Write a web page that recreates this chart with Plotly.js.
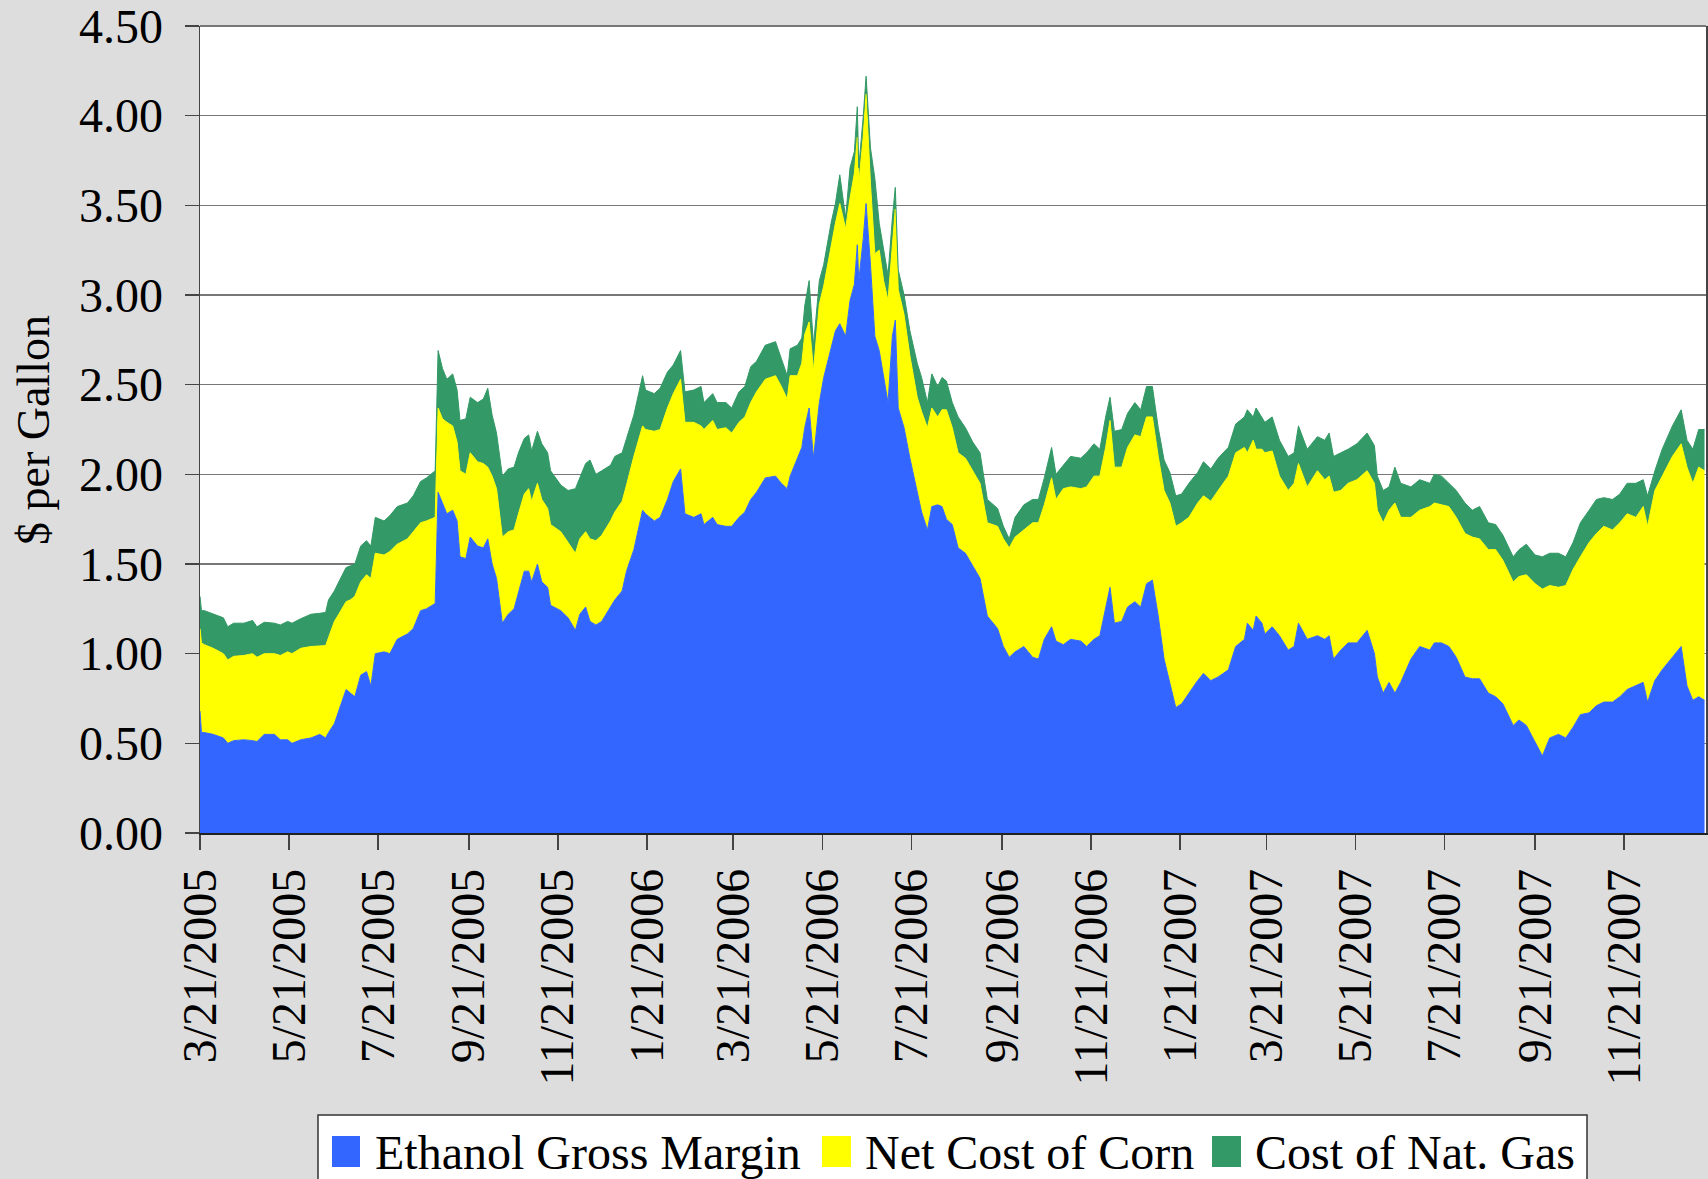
<!DOCTYPE html>
<html>
<head>
<meta charset="utf-8">
<script src="https://cdn.plot.ly/plotly-3.0.1.min.js"></script>
<style>
  html, body { margin: 0; padding: 0; background: #dddddd; }
  #chart { width: 1708px; height: 1179px; }
</style>
</head>
<body>
<div id="chart"></div>
<script>
// ---- Data (stack tops, $ per gallon) ----
const dates = [
 "2005-03-21","2005-03-22","2005-03-24","2005-03-30","2005-04-06","2005-04-09","2005-04-13","2005-04-20","2005-04-26","2005-04-29",
 "2005-05-04","2005-05-11","2005-05-15","2005-05-20","2005-05-23","2005-05-29","2005-06-05","2005-06-11","2005-06-15","2005-06-17",
 "2005-06-21","2005-06-24","2005-06-29","2005-07-02","2005-07-05","2005-07-09","2005-07-13","2005-07-16","2005-07-19","2005-07-25",
 "2005-07-29","2005-08-03","2005-08-10","2005-08-14","2005-08-19","2005-08-23","2005-08-29","2005-08-31","2005-09-03","2005-09-06",
 "2005-09-10","2005-09-13","2005-09-15","2005-09-19","2005-09-22","2005-09-27","2005-10-01","2005-10-04","2005-10-07","2005-10-10",
 "2005-10-14","2005-10-18","2005-10-22","2005-10-25","2005-10-29","2005-11-01","2005-11-03","2005-11-07","2005-11-10","2005-11-14",
 "2005-11-16","2005-11-23","2005-11-28","2005-12-03","2005-12-06","2005-12-10","2005-12-13","2005-12-17","2005-12-21","2005-12-27",
 "2005-12-30","2006-01-04","2006-01-07","2006-01-12","2006-01-18","2006-01-20","2006-01-26","2006-01-30","2006-02-04","2006-02-08",
 "2006-02-13","2006-02-16","2006-02-22","2006-02-27","2006-03-01","2006-03-07","2006-03-10","2006-03-16","2006-03-20","2006-03-25",
 "2006-03-29","2006-04-02","2006-04-06","2006-04-12","2006-04-19","2006-04-23","2006-04-27","2006-04-29","2006-05-04","2006-05-07",
 "2006-05-09","2006-05-12","2006-05-15","2006-05-19","2006-05-22","2006-05-27","2006-05-30","2006-06-02","2006-06-06","2006-06-09",
 "2006-06-12","2006-06-14","2006-06-15","2006-06-18","2006-06-20","2006-06-23","2006-06-26","2006-06-29","2006-07-02","2006-07-05",
 "2006-07-08","2006-07-10","2006-07-12","2006-07-16","2006-07-20","2006-07-25","2006-07-28","2006-08-01","2006-08-04","2006-08-08",
 "2006-08-11","2006-08-14","2006-08-18","2006-08-22","2006-08-27","2006-09-01","2006-09-06","2006-09-11","2006-09-18","2006-09-22",
 "2006-09-26","2006-09-30","2006-10-06","2006-10-12","2006-10-16","2006-10-20","2006-10-25","2006-10-28","2006-11-02","2006-11-07",
 "2006-11-14","2006-11-18","2006-11-23","2006-11-27","2006-12-01","2006-12-04","2006-12-07","2006-12-12","2006-12-16","2006-12-21",
 "2006-12-25","2006-12-29","2007-01-02","2007-01-06","2007-01-10","2007-01-14","2007-01-18","2007-01-22","2007-01-27","2007-02-02",
 "2007-02-06","2007-02-11","2007-02-16","2007-02-23","2007-02-28","2007-03-06","2007-03-08","2007-03-12","2007-03-14","2007-03-18",
 "2007-03-20","2007-03-25","2007-03-30","2007-04-05","2007-04-09","2007-04-12","2007-04-18","2007-04-25","2007-04-30","2007-05-03",
 "2007-05-06","2007-05-11","2007-05-16","2007-05-22","2007-05-29","2007-06-03","2007-06-05","2007-06-09","2007-06-13","2007-06-17",
 "2007-06-21","2007-06-28","2007-07-04","2007-07-11","2007-07-14","2007-07-19","2007-07-24","2007-07-29","2007-08-04","2007-08-09",
 "2007-08-14","2007-08-20","2007-08-25","2007-08-30","2007-09-06","2007-09-10","2007-09-15","2007-09-21","2007-09-26","2007-10-01",
 "2007-10-07","2007-10-12","2007-10-17","2007-10-22","2007-10-28","2007-11-02","2007-11-07","2007-11-13","2007-11-18","2007-11-23",
 "2007-11-29","2007-12-04","2007-12-07","2007-12-12","2007-12-17","2007-12-24","2007-12-30","2008-01-03","2008-01-07","2008-01-11",
 "2008-01-15"
];

// Ethanol Gross Margin (bottom layer)
const grossMargin = [
 0.68,0.56,0.56,0.55,0.53,0.50,0.515,0.52,0.515,0.51,
 0.55,0.55,0.52,0.52,0.50,0.52,0.53,0.55,0.53,0.56,
 0.61,0.68,0.80,0.78,0.76,0.88,0.90,0.82,1.00,1.01,
 1.00,1.08,1.11,1.14,1.24,1.25,1.28,1.90,1.84,1.78,
 1.80,1.74,1.54,1.53,1.65,1.60,1.59,1.64,1.50,1.42,
 1.17,1.22,1.25,1.34,1.46,1.46,1.40,1.50,1.40,1.37,
 1.27,1.24,1.20,1.13,1.22,1.26,1.18,1.16,1.18,1.26,
 1.30,1.35,1.46,1.58,1.80,1.78,1.74,1.76,1.86,1.96,
 2.03,1.78,1.76,1.78,1.72,1.76,1.72,1.71,1.71,1.76,
 1.79,1.86,1.90,1.98,1.99,1.95,1.92,1.99,2.09,2.15,
 2.26,2.37,2.09,2.40,2.54,2.71,2.80,2.84,2.77,2.97,
 3.06,3.28,3.08,3.31,3.51,3.17,2.77,2.69,2.54,2.40,
 2.77,2.86,2.37,2.26,2.09,1.89,1.79,1.69,1.82,1.83,
 1.82,1.75,1.72,1.59,1.56,1.49,1.42,1.21,1.14,1.04,
 0.98,1.01,1.04,0.98,0.97,1.08,1.15,1.07,1.05,1.08,
 1.07,1.04,1.08,1.10,1.26,1.37,1.17,1.18,1.26,1.29,
 1.26,1.39,1.41,1.21,0.97,0.84,0.70,0.72,0.78,0.85,
 0.89,0.85,0.87,0.91,1.04,1.08,1.17,1.13,1.21,1.17,
 1.11,1.15,1.10,1.02,1.04,1.17,1.08,1.10,1.08,1.10,
 0.97,1.02,1.06,1.06,1.13,1.00,0.87,0.78,0.84,0.78,
 0.84,0.97,1.04,1.02,1.06,1.06,1.04,0.98,0.87,0.86,
 0.86,0.78,0.76,0.72,0.60,0.63,0.60,0.51,0.43,0.53,
 0.55,0.53,0.59,0.66,0.67,0.71,0.73,0.73,0.76,0.80,
 0.82,0.84,0.73,0.85,0.91,0.98,1.04,0.82,0.74,0.76,
 0.74
];

// Gross margin + Net Cost of Corn (top of the yellow layer)
const marginPlusCorn = [
 1.14,1.06,1.05,1.03,1.00,0.965,0.985,0.99,1.00,0.98,
 1.00,1.00,0.99,1.01,1.00,1.03,1.04,1.045,1.045,1.09,
 1.18,1.22,1.29,1.30,1.32,1.40,1.44,1.42,1.56,1.55,
 1.57,1.61,1.64,1.68,1.73,1.74,1.76,2.37,2.31,2.29,
 2.27,2.18,2.02,2.00,2.12,2.07,2.06,2.04,1.99,1.92,
 1.65,1.68,1.69,1.78,1.89,1.92,1.85,1.95,1.86,1.81,
 1.72,1.68,1.62,1.56,1.64,1.68,1.64,1.63,1.66,1.74,
 1.79,1.85,1.94,2.10,2.27,2.25,2.24,2.25,2.37,2.45,
 2.53,2.29,2.29,2.27,2.25,2.30,2.25,2.26,2.23,2.29,
 2.32,2.40,2.46,2.53,2.55,2.49,2.42,2.55,2.55,2.62,
 2.78,2.85,2.58,2.95,3.05,3.27,3.40,3.51,3.37,3.54,
 3.68,3.88,3.62,3.88,4.12,3.62,3.23,3.25,3.08,2.97,
 3.26,3.48,3.03,2.89,2.66,2.43,2.35,2.26,2.37,2.32,
 2.36,2.36,2.26,2.12,2.09,2.02,1.95,1.73,1.71,1.64,
 1.59,1.65,1.69,1.73,1.73,1.83,1.98,1.86,1.92,1.93,
 1.92,1.93,1.99,1.99,2.15,2.30,2.04,2.04,2.15,2.22,
 2.21,2.32,2.32,2.10,1.91,1.84,1.71,1.73,1.76,1.84,
 1.88,1.85,1.91,1.99,2.12,2.15,2.12,2.19,2.14,2.14,
 2.12,2.13,1.99,1.91,1.95,2.06,1.93,2.02,1.97,1.99,
 1.90,1.91,1.95,1.97,2.02,1.95,1.80,1.73,1.80,1.84,
 1.76,1.76,1.80,1.82,1.84,1.83,1.82,1.76,1.67,1.65,
 1.64,1.58,1.58,1.52,1.40,1.43,1.44,1.39,1.36,1.38,
 1.37,1.38,1.47,1.54,1.62,1.67,1.71,1.69,1.73,1.78,
 1.76,1.82,1.71,1.91,1.99,2.10,2.17,2.04,1.95,2.04,
 2.02
];

// Gross margin + Corn + Cost of Nat. Gas (top of the green layer)
const marginCornGas = [
 1.32,1.24,1.24,1.22,1.20,1.15,1.17,1.17,1.185,1.15,
 1.175,1.17,1.16,1.18,1.17,1.195,1.22,1.225,1.23,1.30,
 1.35,1.40,1.48,1.49,1.50,1.60,1.63,1.60,1.76,1.74,
 1.77,1.82,1.84,1.88,1.96,1.98,2.02,2.69,2.59,2.53,
 2.56,2.47,2.30,2.31,2.43,2.40,2.42,2.48,2.33,2.23,
 1.99,2.03,2.04,2.12,2.20,2.22,2.13,2.24,2.17,2.12,
 2.02,1.94,1.91,1.92,1.98,2.06,2.08,2.00,2.02,2.05,
 2.10,2.12,2.20,2.33,2.55,2.47,2.45,2.48,2.57,2.61,
 2.69,2.46,2.47,2.49,2.40,2.45,2.40,2.40,2.37,2.46,
 2.49,2.60,2.63,2.72,2.74,2.64,2.55,2.70,2.72,2.76,
 2.94,3.08,2.72,3.08,3.17,3.40,3.51,3.67,3.43,3.71,
 3.80,4.05,3.71,3.99,4.22,3.82,3.65,3.40,3.26,3.11,
 3.43,3.60,3.14,3.00,2.80,2.62,2.54,2.40,2.56,2.49,
 2.54,2.52,2.40,2.32,2.26,2.18,2.12,1.86,1.81,1.71,
 1.64,1.76,1.83,1.86,1.86,1.98,2.15,2.00,2.05,2.10,
 2.09,2.12,2.17,2.14,2.32,2.43,2.24,2.25,2.34,2.40,
 2.36,2.49,2.49,2.26,2.08,2.01,1.88,1.89,1.95,2.01,
 2.07,2.03,2.09,2.15,2.28,2.32,2.36,2.32,2.37,2.32,
 2.29,2.32,2.19,2.10,2.12,2.27,2.14,2.21,2.19,2.23,
 2.10,2.12,2.14,2.17,2.23,2.16,1.99,1.91,1.93,2.04,
 1.95,1.93,1.97,1.95,2.00,1.99,1.95,1.91,1.84,1.80,
 1.82,1.73,1.72,1.66,1.54,1.58,1.61,1.55,1.54,1.56,
 1.56,1.54,1.62,1.73,1.80,1.86,1.87,1.86,1.89,1.95,
 1.95,1.97,1.88,2.02,2.14,2.27,2.36,2.19,2.14,2.25,
 2.25
];

const seriesNames = ["Ethanol Gross Margin", "Net Cost of Corn", "Cost of Nat. Gas"];
const seriesColors = ["#3366ff", "#ffff00", "#339966"];

const xTickVals = ["2005-03-21","2005-05-21","2005-07-21","2005-09-21","2005-11-21","2006-01-21","2006-03-21","2006-05-21",
  "2006-07-21","2006-09-21","2006-11-21","2007-01-21","2007-03-21","2007-05-21","2007-07-21","2007-09-21","2007-11-21"];
const xTickText = ["3/21/2005","5/21/2005","7/21/2005","9/21/2005","11/21/2005","1/21/2006","3/21/2006","5/21/2006",
  "7/21/2006","9/21/2006","11/21/2006","1/21/2007","3/21/2007","5/21/2007","7/21/2007","9/21/2007","11/21/2007"];
const yTickVals = [0, 0.5, 1, 1.5, 2, 2.5, 3, 3.5, 4, 4.5];
const yTickText = ["0.00","0.50","1.00","1.50","2.00","2.50","3.00","3.50","4.00","4.50"];
const yTitle = "$ per Gallon";

// ---- Chart ----
const FONT = "Liberation Serif, 'Times New Roman', Times, serif";
const W = 1708, H = 1179;
const M = { l: 200, r: 2, t: 26, b: 346 };
const PW = W - M.l - M.r, PH = H - M.t - M.b;
const px = x => (x - M.l) / PW;
const py = y => (H - M.b - y) / PH;

const layers = [grossMargin, marginPlusCorn, marginCornGas];
const traces = layers.map((ys, i) => ({
  type: "scatter",
  mode: "lines",
  name: seriesNames[i],
  x: dates,
  y: ys,
  fill: i === 0 ? "tozeroy" : "tonexty",
  fillcolor: seriesColors[i],
  line: { color: seriesColors[i], width: 1 },
  showlegend: false,
  hoverinfo: "x+y+name"
}));

// Top border of the plot area (the 4.50 gridline sits on it)
const shapes = [
  { type: "line", xref: "paper", yref: "paper", x0: 0, x1: 1, y0: 1, y1: 1,
    line: { color: "#777777", width: 2 }, layer: "above" }
];

// Custom legend (box, swatches, labels) placed below the plot
const legendSwatchX = [[332, 360], [822, 851], [1212, 1241]];
const legendTextX = [373, 863, 1253];
shapes.push({ type: "rect", xref: "paper", yref: "paper", x0: px(318), x1: px(1587), y0: py(1200), y1: py(1115),
  fillcolor: "#ffffff", line: { color: "#333333", width: 1.5 }, layer: "above" });
const annotations = [];
seriesNames.forEach((n, i) => {
  shapes.push({ type: "rect", xref: "paper", yref: "paper",
    x0: px(legendSwatchX[i][0]), x1: px(legendSwatchX[i][1]), y0: py(1167), y1: py(1136),
    fillcolor: seriesColors[i], line: { width: 0 }, layer: "above" });
  annotations.push({ xref: "paper", yref: "paper", x: px(legendTextX[i]), y: py(1152),
    xanchor: "left", yanchor: "middle", text: n, showarrow: false,
    font: { family: FONT, size: 48, color: "#000" } });
});
// Y-axis title
annotations.push({ xref: "paper", yref: "paper", x: px(33), y: py(430), xanchor: "center", yanchor: "middle",
  text: yTitle, textangle: -90, showarrow: false, font: { family: FONT, size: 46, color: "#000" } });

const layout = {
  width: W, height: H,
  margin: { l: M.l, r: M.r, t: M.t, b: M.b, pad: 0 },
  paper_bgcolor: "#dddddd",
  plot_bgcolor: "#ffffff",
  showlegend: false,
  font: { family: FONT, size: 48, color: "#000" },
  xaxis: {
    type: "date",
    range: ["2005-03-21", "2008-01-16"],
    tickmode: "array", tickvals: xTickVals, ticktext: xTickText,
    tickangle: -90,
    ticks: "outside", ticklen: 15, tickwidth: 1.5, tickcolor: "#444",
    showline: true, linecolor: "#222", linewidth: 1.5,
    showgrid: false, zeroline: false,
    tickfont: { family: FONT, size: 48, color: "#000" },
    ticklabeloverflow: "allow",
    fixedrange: true
  },
  yaxis: {
    range: [0, 4.5],
    tickmode: "array", tickvals: yTickVals, ticktext: yTickText,
    ticks: "outside", ticklen: 14, tickwidth: 1.5, tickcolor: "#444",
    ticklabelstandoff: 12,
    ticklabeloverflow: "allow",
    showline: true, mirror: true, linecolor: "#444", linewidth: 1.5,
    showgrid: true, gridcolor: "#777", gridwidth: 1.5, zeroline: false,
    tickfont: { family: FONT, size: 48, color: "#000" },
    fixedrange: true
  },
  shapes: shapes,
  annotations: annotations
};

Plotly.newPlot("chart", traces, layout, { displayModeBar: false, staticPlot: true });
</script>
</body>
</html>
